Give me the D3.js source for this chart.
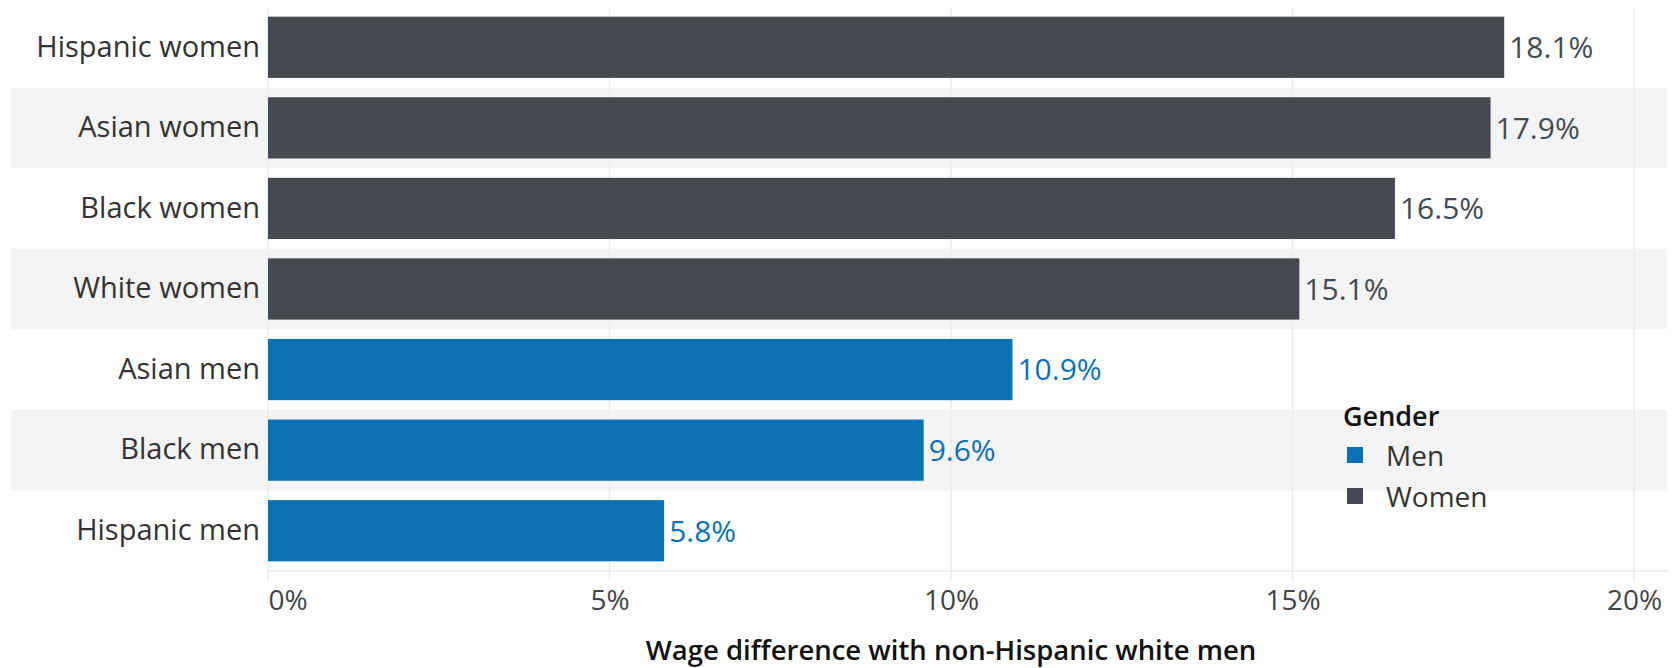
<!DOCTYPE html>
<html>
<head>
<meta charset="utf-8">
<script src="https://cdn.jsdelivr.net/npm/d3@7"></script>
<style>
  body { margin: 0; background: #fff; }
  text { font-family: "Open Sans", sans-serif; }
</style>
</head>
<body>
<div class="chart"></div>
<script>
// Data
var categories = ["Hispanic women", "Asian women", "Black women", "White women",
                  "Asian men", "Black men", "Hispanic men"];
var genders = ["Women", "Women", "Women", "Women", "Men", "Men", "Men"];
var values = [18.1, 17.9, 16.5, 15.1, 10.9, 9.6, 5.8];
var ticks = [0, 5, 10, 15, 20];
var legendKeys = ["Men", "Women"];

var width = 1679, height = 668;
var margin = { top: 7, right: 45, bottom: 97, left: 268 };
var plotW = width - margin.left - margin.right;
var plotH = height - margin.top - margin.bottom;

var colour = d3.scaleOrdinal()
    .domain(["Men", "Women"])
    .range(["#0b71b4", "#454a51"]);

var svg = d3.select(".chart")
    .append("svg")
      .attr("width", width)
      .attr("height", height)
    .append("g")
      .attr("transform", "translate(" + margin.left + "," + margin.top + ")");

var x = d3.scaleLinear()
    .domain([0, 20])
    .range([0, plotW]);

var y = d3.scaleBand()
    .domain(categories)
    .range([0, plotH])
    .paddingInner(0.24)
    .paddingOuter(0.12);

var step = y.step();

// Alternate row shading
svg.selectAll(".row")
    .data(categories.filter(function(d, i) { return i % 2 === 1; }))
    .enter().append("rect")
      .attr("class", "row")
      .attr("x", -margin.left + 11)
      .attr("y", function(d) { return y(d) - y.paddingInner() * step / 2; })
      .attr("width", margin.left - 11 + plotW + 33)
      .attr("height", step)
      .style("fill", "#f4f4f4");

// Gridlines
svg.selectAll(".grid")
    .data(ticks)
    .enter().append("line")
      .attr("class", "grid")
      .attr("x1", function(d) { return x(d); })
      .attr("x2", function(d) { return x(d); })
      .attr("y1", 0)
      .attr("y2", plotH + 10)
      .style("stroke", "#ececec")
      .style("stroke-width", 1.5);

svg.append("line")
    .attr("x1", 0)
    .attr("x2", plotW + 33)
    .attr("y1", plotH)
    .attr("y2", plotH)
    .style("stroke", "#ececec")
    .style("stroke-width", 1.5);

// Bars
svg.selectAll(".bar")
    .data(values)
    .enter().append("rect")
      .attr("class", "bar")
      .attr("x", x(0))
      .attr("y", function(d, i) { return y(categories[i]); })
      .attr("width", function(d) { return x(d) - x(0); })
      .attr("height", y.bandwidth())
      .style("fill", function(d, i) { return colour(genders[i]); });

// Value labels
svg.selectAll(".value")
    .data(values)
    .enter().append("text")
      .attr("class", "value")
      .attr("x", function(d) { return x(d) + 5; })
      .attr("y", function(d, i) { return y(categories[i]) + y.bandwidth() / 2; })
      .attr("dy", "0.36em")
      .style("font-size", "30px")
      .style("fill", function(d, i) { return colour(genders[i]); })
      .text(function(d) { return d.toFixed(1) + "%"; });

// Category labels
var yAxis = d3.axisLeft(y).tickSize(0).tickPadding(8);
var yG = svg.append("g").call(yAxis);
yG.select(".domain").remove();
yG.selectAll("text")
    .style("font-size", "29px")
    .style("fill", "#333");

// X axis
var xAxis = d3.axisBottom(x)
    .tickValues(ticks)
    .tickSize(0)
    .tickPadding(19)
    .tickFormat(function(d) { return d + "%"; });

var xG = svg.append("g")
    .attr("transform", "translate(0," + plotH + ")")
    .call(xAxis);
xG.select(".domain").remove();
xG.selectAll("text")
    .style("font-size", "28px")
    .style("fill", "#444")
    .attr("text-anchor", function(d) { return d === 0 ? "start" : "middle"; });

svg.append("text")
    .attr("x", plotW / 2)
    .attr("y", plotH + 89)
    .attr("text-anchor", "middle")
    .style("font-size", "27.5px")
    .style("font-weight", 600)
    .style("fill", "#111")
    .text("Wage difference with non-Hispanic white men");

// Legend
var legend = svg.append("g")
    .attr("transform", "translate(" + (1343 - margin.left) + "," + (426 - margin.top) + ")");

legend.append("text")
    .style("font-size", "27px")
    .style("font-weight", 600)
    .style("fill", "#111")
    .text("Gender");

var items = legend.selectAll(".key")
    .data(legendKeys)
    .enter().append("g")
      .attr("class", "key")
      .attr("transform", function(d, i) { return "translate(0," + (i * 41) + ")"; });

items.append("rect")
    .attr("x", 4)
    .attr("y", 21)
    .attr("width", 16)
    .attr("height", 16)
    .style("fill", function(d) { return colour(d); });

items.append("text")
    .attr("x", 43)
    .attr("y", 40)
    .style("font-size", "28px")
    .style("fill", "#333")
    .text(function(d) { return d; });
</script>
</body>
</html>
